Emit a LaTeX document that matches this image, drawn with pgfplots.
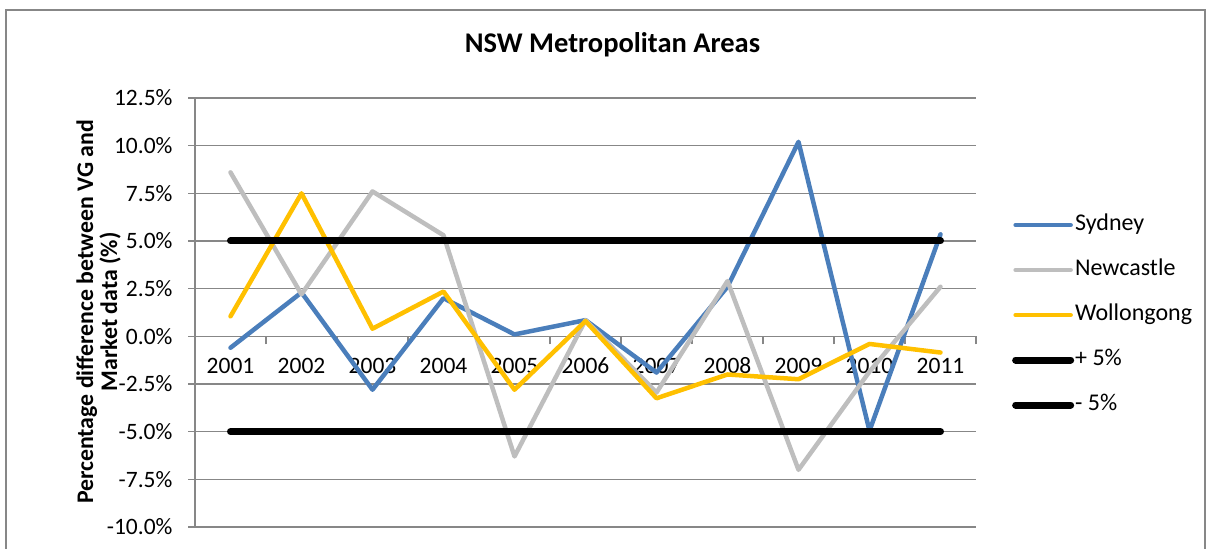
\documentclass[border=0pt]{standalone}
\usepackage{pgfplots}
\pgfplotsset{compat=1.18}
\usepackage{fontspec}
\setmainfont{Carlito}
\definecolor{syd}{HTML}{4A7EBB}
\definecolor{newc}{HTML}{BEBEBE}
\definecolor{wol}{HTML}{FFC000}
\definecolor{gridc}{HTML}{878787}
\pgfplotstableread{
x syd newc wol plus minus
0 -0.6 8.6 1.05 5 -5
1 2.3 2.2 7.5 5 -5
2 -2.8 7.6 0.4 5 -5
3 2.0 5.3 2.35 5 -5
4 0.1 -6.3 -2.8 5 -5
5 0.85 0.85 0.8 5 -5
6 -1.9 -2.95 -3.25 5 -5
7 2.6 2.9 -2.0 5 -5
8 10.2 -7.0 -2.25 5 -5
9 -4.95 -1.85 -0.4 5 -5
10 5.35 2.6 -0.85 5 -5
}\data
\begin{document}
\begin{tikzpicture}[x=1pt,y=1pt]
\useasboundingbox (0,0) rectangle (1208,549);
\draw[gridc, line width=1.3pt] (6,-5) rectangle (1205,539);
\begin{axis}[
  at={(195pt,22pt)}, anchor=south west,
  width=781pt, height=429pt, scale only axis,
  xmin=-0.5, xmax=10.5, ymin=-10, ymax=12.5,
  axis x line=middle, axis y line=left,
  axis line style={gridc, line width=1.3pt, -},
  hide obscured y ticks=false, hide obscured x ticks=false,
  xtick={0,...,10},
  xticklabels={2001,2002,2003,2004,2005,2006,2007,2008,2009,2010,2011},
  major x tick style={draw=none},
  minor xtick={-0.5,0.5,...,10.5},
  minor x tick style={gridc, line width=1.3pt},
  minor tick length=8pt,
  major tick length=7pt,
  tick align=outside,
  ytick={-10,-7.5,-5,-2.5,0,2.5,5,7.5,10,12.5},
  yticklabels={-10.0\%,-7.5\%,-5.0\%,-2.5\%,0.0\%,2.5\%,5.0\%,7.5\%,10.0\%,12.5\%},
  major y tick style={gridc, line width=1.3pt},
  ymajorgrids, grid style={gridc, line width=1.3pt},
  tick label style={font=\fontsize{23.5}{27}\selectfont},
  yticklabel style={xshift=-12pt},
  xticklabel style={yshift=-11pt},
  legend style={at={(1.046,0.494)}, anchor=west, draw=none, fill=none, inner sep=0pt,
    font=\fontsize{24}{27}\selectfont, row sep=24pt,
    nodes={inner sep=0pt, text height=16pt, text depth=5pt},
    /tikz/every odd column/.style={column sep=1pt}},
  legend cell align=left,
  legend image code/.code={\draw[#1] (0pt,0pt) -- (55pt,0pt);},
  every axis plot/.append style={line cap=round, line join=round},
]
\addplot[syd, line width=4.5pt] table[x=x,y=syd]{\data};
\addlegendentry{Sydney}
\addplot[newc, line width=4.5pt] table[x=x,y=newc]{\data};
\addlegendentry{Newcastle}
\addplot[wol, line width=4.5pt] table[x=x,y=wol]{\data};
\addlegendentry{Wollongong}
\addplot[black, line width=7pt] table[x=x,y=plus]{\data};
\addlegendentry{+ 5\%}
\addplot[black, line width=7pt] table[x=x,y=minus]{\data};
\addlegendentry{- 5\%}
\end{axis}
\node[font=\fontsize{28.5}{32}\selectfont\bfseries] at (612.5,504) {NSW Metropolitan Areas};
\node[rotate=90, align=center, font=\fontsize{23.8}{24}\selectfont\bfseries] at (98.5,237) {Percentage difference between VG and\\Market data (\%)};
\end{tikzpicture}
\end{document}
